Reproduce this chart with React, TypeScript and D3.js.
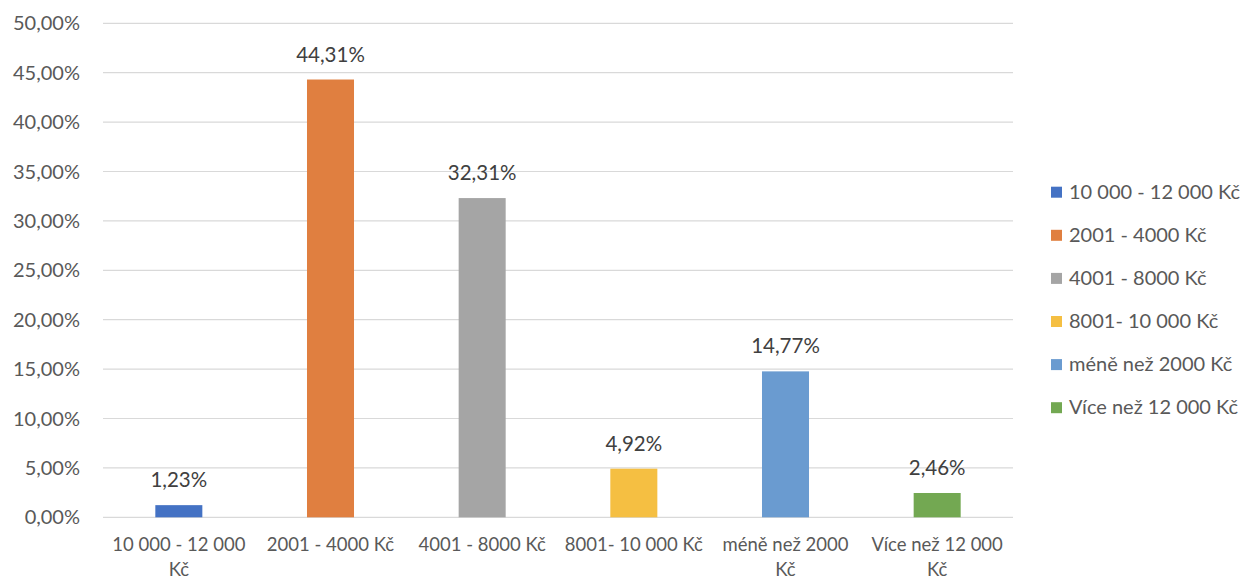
import React, { useEffect, useRef } from "react";
import * as d3 from "d3";

const categories = [
  "10 000 - 12 000 Kč",
  "2001 - 4000 Kč",
  "4001 - 8000 Kč",
  "8001- 10 000 Kč",
  "méně než 2000 Kč",
  "Více než 12 000 Kč",
];
const tickLabelLines = [
  ["10 000 - 12 000", "Kč"],
  ["2001 - 4000 Kč"],
  ["4001 - 8000 Kč"],
  ["8001- 10 000 Kč"],
  ["méně než 2000", "Kč"],
  ["Více než 12 000", "Kč"],
];
const values = [1.23, 44.31, 32.31, 4.92, 14.77, 2.46];
const colors = ["#4472C4", "#E07F40", "#A5A5A5", "#F5BF42", "#6A9BD0", "#73A852"];
const yTicks = [0, 5, 10, 15, 20, 25, 30, 35, 40, 45, 50];

const W = 1250;
const H = 580;
const FONT = "Lato, 'Open Sans', sans-serif";
const TEXT = "#595959";

const fmt = (v: number) => v.toFixed(2).replace(".", ",") + "%";

export default function App() {
  const ref = useRef<SVGSVGElement>(null);
  useEffect(() => {
    const svg = d3.select(ref.current);
    svg.selectAll("*").remove();
    const left = 103, right = 1013, top = 23.3, bottom = 517.3;
    const x = d3.scaleBand<string>().domain(categories).range([left, right]).paddingInner(0.69).paddingOuter(0.345);
    const y = d3.scaleLinear().domain([0, 50]).range([bottom, top]);

    const g = svg.append("g");
    g.selectAll("line.grid").data(yTicks).join("line")
      .attr("x1", left).attr("x2", right)
      .attr("y1", (d) => y(d)).attr("y2", (d) => y(d))
      .attr("stroke", "#D9D9D9").attr("stroke-width", 1.2);

    g.selectAll("text.ytick").data(yTicks).join("text")
      .attr("x", 80).attr("y", (d) => y(d)).attr("dy", "0.35em")
      .attr("text-anchor", "end").attr("fill", TEXT)
      .style("font-family", FONT).style("font-size", "20px")
      .text((d) => fmt(d));

    g.selectAll("rect.bar").data(values).join("rect")
      .attr("x", (_, i) => x(categories[i])!)
      .attr("width", x.bandwidth())
      .attr("y", (d) => y(d))
      .attr("height", (d) => y(0) - y(d))
      .attr("fill", (_, i) => colors[i]);

    g.selectAll("text.lbl").data(values).join("text")
      .attr("x", (_, i) => x(categories[i])! + x.bandwidth() / 2)
      .attr("y", (d) => y(d) - 18)
      .attr("text-anchor", "middle").attr("fill", "#404040")
      .style("font-family", FONT).style("font-size", "20.5px")
      .text((d) => fmt(d));

    const xt = g.selectAll("text.xtick").data(tickLabelLines).join("text")
      .attr("text-anchor", "middle").attr("fill", TEXT)
      .style("font-family", FONT).style("font-size", "18.5px")
      .attr("transform", (_, i) => `translate(${x(categories[i])! + x.bandwidth() / 2},551)`);
    xt.selectAll("tspan").data((d) => d).join("tspan")
      .attr("x", 0).attr("y", (_, j) => j * 25).text((d) => d);

    const leg = g.selectAll("g.leg").data(categories).join("g")
      .attr("transform", (_, i) => `translate(1051,${191.7 + i * 43.1})`);
    leg.append("rect").attr("x", 0).attr("y", -5).attr("width", 11).attr("height", 11)
      .attr("fill", (_, i) => colors[i]);
    leg.append("text").attr("x", 18).attr("y", 0).attr("dy", "0.35em")
      .attr("fill", TEXT).style("font-family", FONT).style("font-size", "20px")
      .text((d) => d);
  }, []);
  return (
    <svg ref={ref} width={W} height={H}
      style={{ position: "absolute", left: 0, top: 0, background: "#fff" }} />
  );
}
